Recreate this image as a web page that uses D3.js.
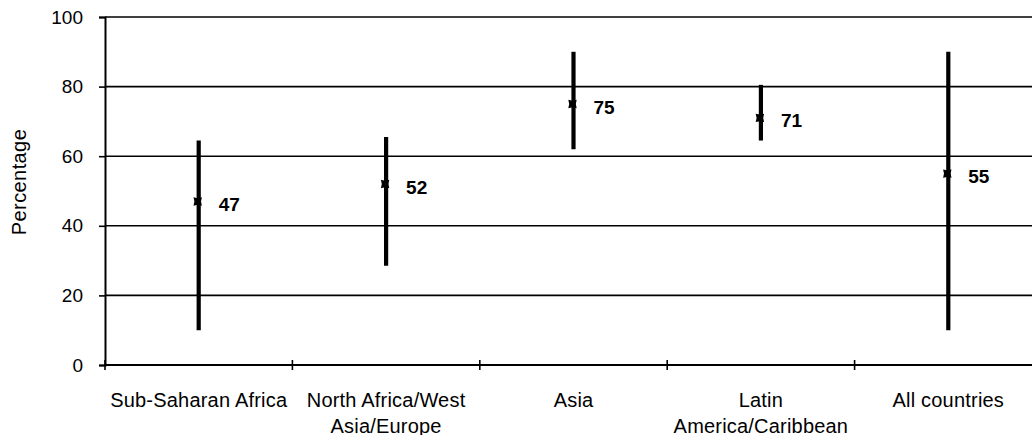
<!DOCTYPE html>
<html>
<head>
<meta charset="utf-8">
<script src="https://cdn.jsdelivr.net/npm/d3@7/dist/d3.min.js"></script>
<style>
  html, body { margin: 0; padding: 0; background: #fff; }
  svg { display: block; font-family: "Liberation Sans", Arial, sans-serif; }
</style>
</head>
<body>
<svg id="chart" width="1032" height="435"></svg>
<script>
// Regional percentages: central value with the low–high range across countries
const categories = ["Sub-Saharan Africa", "North Africa/West Asia/Europe", "Asia", "Latin America/Caribbean", "All countries"];
const categoryLines = [["Sub-Saharan Africa"], ["North Africa/West", "Asia/Europe"], ["Asia"], ["Latin", "America/Caribbean"], ["All countries"]];
const centralValues = [47, 52, 75, 71, 55];
const lowValues = [10, 28.5, 62, 64.5, 10];
const highValues = [64.5, 65.5, 90, 80.5, 90];
const yTicks = [0, 20, 40, 60, 80, 100];

const svg = d3.select("#chart");
const margin = { left: 105, top: 17, bottom: 365, right: 1042 };

const x = d3.scaleBand().domain(categories).range([margin.left, margin.right]);
const y = d3.scaleLinear().domain([0, 100]).range([margin.bottom, margin.top]);

// Horizontal gridlines
svg.append("g")
  .selectAll("line")
  .data(yTicks.filter(t => t > 0))
  .join("line")
  .attr("x1", margin.left).attr("x2", margin.right)
  .attr("y1", d => y(d)).attr("y2", d => y(d))
  .attr("stroke", "#000").attr("stroke-width", 1.6);

// Y axis
const yAxis = svg.append("g")
  .attr("transform", `translate(${margin.left},0)`)
  .call(d3.axisLeft(y).tickValues(yTicks).tickSize(6).tickPadding(16));
yAxis.select(".domain").attr("stroke-width", 2);
yAxis.selectAll(".tick line").attr("stroke-width", 1.6);
yAxis.selectAll(".tick text").attr("font-size", 19).attr("fill", "#000")
  .attr("font-family", "Liberation Sans, Arial, sans-serif");

// X axis (ticks straddle the axis line)
const xAxis = svg.append("g")
  .attr("transform", `translate(0,${margin.bottom})`)
  .call(d3.axisBottom(x).tickSize(0).tickFormat(""));
xAxis.select(".domain").attr("stroke-width", 2).attr("d", `M${margin.left},0H${margin.right}`);
xAxis.selectAll(".tick").remove();
const bounds = d3.range(categories.length + 1).map(i => margin.left + i * x.step());
xAxis.selectAll("line.sep")
  .data(bounds.slice(0, -1))
  .join("line")
  .attr("class", "sep")
  .attr("x1", d => d).attr("x2", d => d)
  .attr("y1", -5).attr("y2", 5)
  .attr("stroke", "#000").attr("stroke-width", 1.6);

// Category labels
const catLabels = svg.append("g")
  .selectAll("text")
  .data(categories)
  .join("text")
  .attr("x", d => x(d) + x.bandwidth() / 2)
  .attr("y", margin.bottom + 42)
  .attr("text-anchor", "middle")
  .attr("font-size", 20)
  .attr("letter-spacing", 0.2)
  .attr("fill", "#000");
catLabels.each(function(d, i) {
  d3.select(this).selectAll("tspan")
    .data(categoryLines[i])
    .join("tspan")
    .attr("x", x(d) + x.bandwidth() / 2)
    .attr("dy", (t, j) => j === 0 ? 0 : 25.5)
    .text(t => t);
});

// Y axis title
svg.append("text")
  .attr("transform", `translate(26,182) rotate(-90)`)
  .attr("text-anchor", "middle")
  .attr("font-size", 20)
  .attr("letter-spacing", 0.4)
  .attr("fill", "#000")
  .text("Percentage");

// Range bars
const data = categories.map((c, i) => ({ c, v: centralValues[i], lo: lowValues[i], hi: highValues[i] }));
svg.append("g")
  .selectAll("line")
  .data(data)
  .join("line")
  .attr("x1", d => x(d.c) + x.bandwidth() / 2)
  .attr("x2", d => x(d.c) + x.bandwidth() / 2)
  .attr("y1", d => y(d.lo)).attr("y2", d => y(d.hi))
  .attr("stroke", "#000").attr("stroke-width", 4.2);

// Central value markers (small square with notched sides)
const s = 4.2, k = 0.9;
const markerPath = `M${-s},${-s}L0,${-s + k}L${s},${-s}L${s - k},0L${s},${s}L0,${s - k}L${-s},${s}L${-s + k},0Z`;
svg.append("g")
  .selectAll("path")
  .data(data)
  .join("path")
  .attr("transform", d => `translate(${x(d.c) + x.bandwidth() / 2 - 1},${y(d.v)})`)
  .attr("d", markerPath)
  .attr("fill", "#000");

// Value labels
svg.append("g")
  .selectAll("text")
  .data(data)
  .join("text")
  .attr("x", d => x(d.c) + x.bandwidth() / 2 + 20)
  .attr("y", d => y(d.v) + 9.5)
  .attr("font-size", 19)
  .attr("font-weight", "bold")
  .attr("fill", "#000")
  .text(d => d.v);
</script>
</body>
</html>
